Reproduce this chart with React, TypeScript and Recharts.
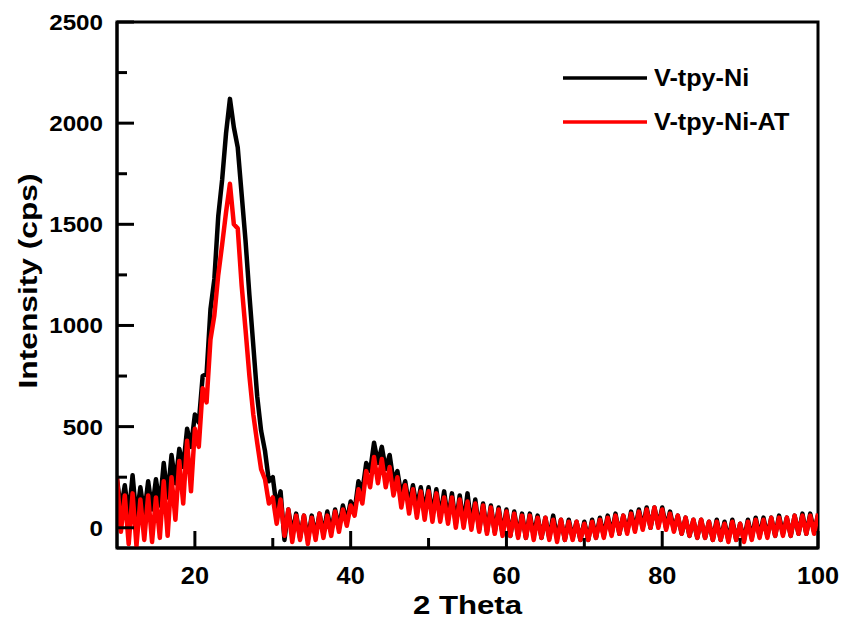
import React from 'react';
import { LineChart, Line, XAxis, YAxis, ReferenceArea } from 'recharts';

// 2 Theta positions (deg)
const THETA = [
  10, 10.5, 11, 11.5, 12, 12.5, 13, 13.5, 14, 14.5,
  15, 15.5, 16, 16.5, 17, 17.5, 18, 18.5, 19, 19.5,
  20, 20.5, 21, 21.5, 22, 22.5, 23, 23.5, 24, 24.5,
  25, 25.5, 26, 26.5, 27, 27.5, 28, 28.5, 29, 29.5,
  30, 30.5, 31, 31.5, 32, 32.5, 33, 33.5, 34, 34.5,
  35, 35.5, 36, 36.5, 37, 37.5, 38, 38.5, 39, 39.5,
  40, 40.5, 41, 41.5, 42, 42.5, 43, 43.5, 44, 44.5,
  45, 45.5, 46, 46.5, 47, 47.5, 48, 48.5, 49, 49.5,
  50, 50.5, 51, 51.5, 52, 52.5, 53, 53.5, 54, 54.5,
  55, 55.5, 56, 56.5, 57, 57.5, 58, 58.5, 59, 59.5,
  60, 60.5, 61, 61.5, 62, 62.5, 63, 63.5, 64, 64.5,
  65, 65.5, 66, 66.5, 67, 67.5, 68, 68.5, 69, 69.5,
  70, 70.5, 71, 71.5, 72, 72.5, 73, 73.5, 74, 74.5,
  75, 75.5, 76, 76.5, 77, 77.5, 78, 78.5, 79, 79.5,
  80, 80.5, 81, 81.5, 82, 82.5, 83, 83.5, 84, 84.5,
  85, 85.5, 86, 86.5, 87, 87.5, 88, 88.5, 89, 89.5,
  90, 90.5, 91, 91.5, 92, 92.5, 93, 93.5, 94, 94.5,
  95, 95.5, 96, 96.5, 97, 97.5, 98, 98.5, 99, 99.5,
  100,
];

// Intensity (cps), V-tpy-Ni
const V_TPY_NI = [
  240, 90, 210, 60, 260, 50, 200, 70, 230, 90,
  240, 110, 320, 150, 360, 220, 390, 300, 490, 400,
  560, 520, 750, 760, 1080, 1230, 1540, 1720, 1950, 2120,
  1980, 1880, 1650, 1420, 1150, 900, 650, 480, 380, 230,
  250, 100, 180, -60, 90, -30, 70, -50, 60, -60,
  60, -40, 70, -30, 80, -20, 90, 0, 110, 30,
  130, 80, 230, 180, 320, 280, 420, 320, 400, 290,
  360, 230, 280, 160, 230, 110, 210, 100, 200, 80,
  200, 60, 190, 50, 180, 40, 170, 20, 160, 20,
  170, 10, 140, -10, 120, -20, 110, -20, 100, -30,
  90, -40, 80, -40, 70, -50, 70, -40, 60, -50,
  50, -50, 60, -50, 40, -60, 40, -50, 30, -60,
  30, -60, 40, -50, 50, -40, 60, -30, 70, -30,
  60, -20, 80, -10, 90, 0, 100, 0, 100, 10,
  100, 0, 80, -10, 60, -30, 50, -40, 40, -50,
  40, -50, 30, -60, 40, -60, 30, -60, 40, -60,
  20, -60, 40, -50, 50, -40, 50, -40, 50, -40,
  60, -30, 50, -40, 60, -30, 70, -30, 70, -20,
  60,
];

// Intensity (cps), V-tpy-Ni-AT
const V_TPY_NI_AT = [
  250, -20, 160, -80, 170, -90, 140, -60, 160, -70,
  150, -50, 230, -40, 250, 40, 330, 120, 430, 180,
  490, 400, 690, 620, 930, 1050, 1250, 1400, 1560, 1700,
  1500, 1480, 1200, 980, 750, 560, 420, 290, 240, 120,
  150, 20, 140, -40, 90, -70, 60, -60, 60, -80,
  50, -60, 70, -50, 60, -40, 80, -20, 90, 10,
  110, 60, 190, 120, 280, 200, 350, 220, 340, 200,
  300, 160, 250, 100, 210, 70, 190, 50, 180, 40,
  180, 30, 170, 30, 150, 20, 150, 0, 140, 0,
  130, -10, 120, -20, 110, -30, 100, -30, 90, -40,
  80, -40, 70, -50, 60, -50, 60, -60, 50, -50,
  50, -60, 40, -70, 40, -60, 30, -60, 30, -60,
  20, -60, 30, -50, 40, -50, 50, -40, 60, -30,
  60, -30, 70, -20, 80, -10, 90, 0, 100, 0,
  90, -10, 70, -20, 60, -30, 50, -40, 40, -50,
  40, -50, 30, -60, 30, -60, 20, -70, 30, -60,
  20, -70, 30, -60, 40, -50, 40, -50, 50, -40,
  50, -40, 50, -40, 60, -30, 60, -30, 60, -30,
  70,
];

const SERIES = [
  { key: 'ni', name: 'V-tpy-Ni', color: '#000000' },
  { key: 'at', name: 'V-tpy-Ni-AT', color: '#ff0000' },
];

const X_TICKS = [20, 30, 40, 50, 60, 70, 80, 90, 100];
const X_LABELS = [20, 40, 60, 80, 100];
const Y_TICKS = [0, 250, 500, 750, 1000, 1250, 1500, 1750, 2000, 2250, 2500];
const Y_LABELS = [0, 500, 1000, 1500, 2000, 2500];

const data = THETA.map((t, i) => ({ theta: t, ni: V_TPY_NI[i], at: V_TPY_NI_AT[i] }));

const FONT = 'Arial, "Liberation Sans", Helvetica, sans-serif';

const XTick = (props: any) => {
  const { x, y, payload } = props;
  const major = X_LABELS.includes(payload.value);
  return (
    <g>
      <line x1={x} x2={x} y1={y} y2={y - (major ? 17 : 10)} stroke="#000" strokeWidth={3} />
      {major && (
        <text
          transform={`translate(${x},${y + 36}) scale(1.1,1)`}
          textAnchor="middle"
          fontFamily={FONT}
          fontWeight="bold"
          fontSize={23}
          fill="#000"
        >
          {payload.value}
        </text>
      )}
    </g>
  );
};

const YTick = (props: any) => {
  const { x, y, payload } = props;
  const major = Y_LABELS.includes(payload.value);
  return (
    <g>
      <line x1={x} x2={x + (major ? 17 : 10)} y1={y} y2={y} stroke="#000" strokeWidth={3} />
      {major && (
        <text
          transform={`translate(${x - 14},${y + 8}) scale(1.1,1)`}
          textAnchor="end"
          fontFamily={FONT}
          fontWeight="bold"
          fontSize={22}
          fill="#000"
        >
          {payload.value}
        </text>
      )}
    </g>
  );
};

const YTitle = (props: any) => {
  const { x, y, height } = props.viewBox;
  return (
    <text
      transform={`translate(${x + 37},${y + height / 2 - 4}) rotate(-90) scale(1.22,1)`}
      textAnchor="middle"
      fontFamily={FONT}
      fontWeight="bold"
      fontSize={26}
      fill="#000"
    >
      Intensity (cps)
    </text>
  );
};

const XTitle = (props: any) => {
  const { x, y, width } = props.viewBox;
  return (
    <text
      transform={`translate(${x + width / 2},${y + 66}) scale(1.2,1)`}
      textAnchor="middle"
      fontFamily={FONT}
      fontWeight="bold"
      fontSize={26}
      fill="#000"
    >
      2 Theta
    </text>
  );
};

const ChartLegend = () => (
  <div style={{ position: 'absolute', left: 563, top: 56 }}>
    {SERIES.map((s) => (
      <div key={s.key} style={{ display: 'flex', alignItems: 'center', height: 44 }}>
        <svg width={84} height={6} style={{ display: 'block' }}>
          <line x1={0} x2={84} y1={3} y2={3} stroke={s.color} strokeWidth={3.5} />
        </svg>
        <span
          style={{
            marginLeft: 7,
            display: 'inline-block',
            fontFamily: FONT,
            fontWeight: 'bold',
            fontSize: 24,
            color: '#000',
            transform: 'scaleX(1.05)',
            transformOrigin: 'left center',
            whiteSpace: 'nowrap',
          }}
        >
          {s.name}
        </span>
      </div>
    ))}
  </div>
);

export default function App() {
  return (
    <div style={{ position: 'absolute', left: 0, top: 0, width: 843, height: 620, background: '#fff' }}>
      <LineChart width={843} height={620} data={data} margin={{ top: 22, right: 25, bottom: 0, left: 0 }}>
        <XAxis
          dataKey="theta"
          type="number"
          domain={[10, 100]}
          ticks={X_TICKS}
          tick={<XTick />}
          tickLine={false}
          tickSize={0}
          tickMargin={0}
          height={72}
          axisLine={{ stroke: '#000', strokeWidth: 3 }}
          allowDataOverflow
          label={<XTitle />}
        />
        <YAxis
          type="number"
          domain={[-100, 2500]}
          ticks={Y_TICKS}
          tick={<YTick />}
          tickLine={false}
          tickSize={0}
          tickMargin={0}
          width={117}
          axisLine={{ stroke: '#000', strokeWidth: 3 }}
          allowDataOverflow
          label={<YTitle />}
        />
        <ReferenceArea x1={10} x2={100} y1={-100} y2={2500} fill="none" stroke="#000" strokeWidth={3} />
        {SERIES.map((s) => (
          <Line
            key={s.key}
            type="linear"
            dataKey={s.key}
            name={s.name}
            stroke={s.color}
            strokeWidth={4.5}
            strokeLinejoin="round"
            dot={false}
            isAnimationActive={false}
          />
        ))}
      </LineChart>
      <ChartLegend />
    </div>
  );
}
